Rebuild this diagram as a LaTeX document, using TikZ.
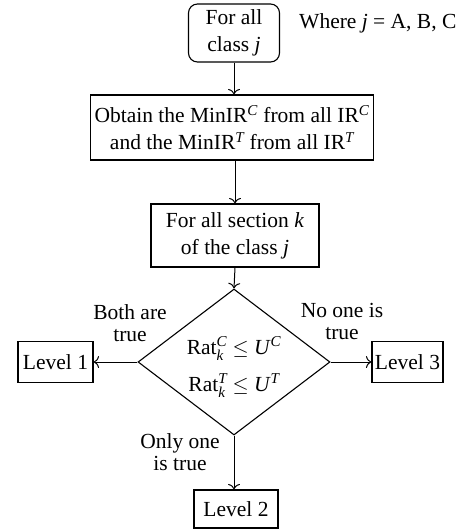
\documentclass[tikz,border=0pt]{standalone}
\usepackage{amsmath}
\usepackage{fontspec}
\setmainfont{Liberation Serif}
\usetikzlibrary{shapes.geometric,arrows.meta}
\begin{document}
\begin{tikzpicture}[x=1pt,y=1pt,
  every node/.style={font=\fontsize{21.5}{27}\selectfont},
  box/.style={draw,line width=1.1pt,inner sep=0pt,align=center},
  conn/.style={line width=1pt,-{To[length=5.5pt,width=12pt]}},
  lbl/.style={align=center,inner sep=0pt,font=\fontsize{21.5}{22}\selectfont}]
\useasboundingbox (0,0) rectangle (459,-532);
\node[box,rounded corners=9pt,minimum width=91pt,minimum height=58pt] (start) at (234,-33) {For all\\class \textit{j}};
\node[lbl,anchor=west] (where) at (299,-23) {Where \textit{j} = A, B, C};
\node[box,minimum width=283pt,minimum height=65pt] (obtain) at (232,-127.5) {Obtain the MinIR$^{\textit{C}}$ from all IR$^{\textit{C}}$\\and the MinIR$^{\textit{T}}$ from all IR$^{\textit{T}}$};
\node[box,minimum width=168pt,minimum height=63pt] (sect) at (235,-235.5) {For all section \textit{k}\\of the class \textit{j}};
\node[draw,line width=1.1pt,diamond,inner sep=0pt,minimum width=192pt,minimum height=146pt] (dec) at (234,-362) {};
\node[align=center,inner sep=0pt] (cond) at (234,-367) {Rat$_{\textit{k}}^{\textit{C}}$ $\leq$ \textit{U}$^{\textit{C}}$\\[10pt]Rat$_{\textit{k}}^{\textit{T}}$ $\leq$ \textit{U}$^{\textit{T}}$};
\node[box,minimum width=75pt,minimum height=41pt] (l1) at (55.5,-362) {Level 1};
\node[box,minimum width=71pt,minimum height=41pt] (l3) at (407.5,-362) {Level 3};
\node[box,minimum width=84pt,minimum height=38pt] (l2) at (236,-509) {Level 2};
\node[lbl] (both) at (130,-323) {Both are\\true};
\node[lbl] (none) at (342,-321) {No one is\\true};
\node[lbl] (only) at (180,-452) {Only one\\is true};
\draw[conn] (start.south) -- (start.south |- obtain.north);
\draw[conn] (obtain.south -| sect.north) -- (sect.north);
\draw[conn] (sect.south) -- (dec.north);
\draw[conn] (dec.west) -- (l1.east);
\draw[conn] (dec.east) -- (l3.west);
\draw[conn] (dec.south) -- (dec.south |- l2.north);
\end{tikzpicture}
\end{document}
